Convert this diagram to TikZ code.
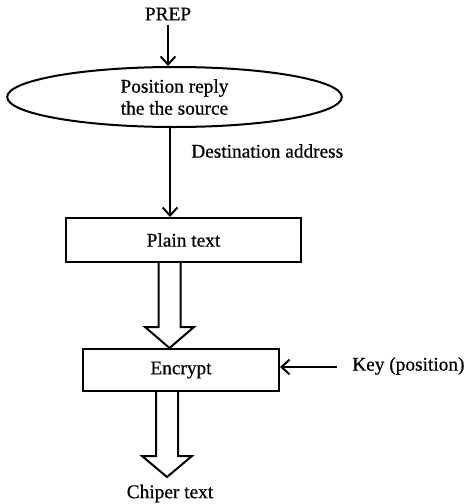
\documentclass[tikz,border=0pt]{standalone}
\usepackage{fontspec}
\setmainfont{Liberation Serif}[FakeBold=0.6]
\usetikzlibrary{shapes.geometric,arrows.meta,calc}
\begin{document}
\begin{tikzpicture}[x=0.75pt,y=-0.75pt,
  every node/.style={font=\fontsize{14.5}{16.5}\selectfont},
  arr/.style={line width=1.5pt,-{Straight Barb[length=6pt,width=11pt,line width=1.5pt]}},
  box/.style={draw,line width=1.5pt,rectangle,inner sep=0pt},
  hollow/.style={line width=1.5pt,line join=miter}]
\useasboundingbox (0,0) rectangle (466,504);
% nodes
\node[inner sep=3pt] (prep) at (168,14) {PREP};
\node[draw,ellipse,line width=1.5pt,minimum width=251pt,minimum height=45pt,inner sep=0pt,align=center] (src) at (174.5,97) {Position reply\\the the source};
\node[anchor=west,inner sep=0pt] (dest) at (191,151) {Destination address};
\node[box,minimum width=176.25pt,minimum height=33pt] (plain) at (183.5,240) {Plain text};
\node[box,minimum width=147pt,minimum height=31.5pt] (enc) at (181,370) {Encrypt};
\node[anchor=west,inner sep=0pt] (key) at (352,366) {Key (position)};
\node[inner sep=0pt] (chiper) at (170,493.5) {Chiper text};
% helper coordinates
\coordinate (ax) at (170,0);
\coordinate (h1) at (169.5,0);
\coordinate (h2) at (167,0);
\coordinate (kst) at (337,367);
% connectors
\draw[arr] (prep.south) -- (prep.south |- src.north);
\draw[arr] (ax |- src.south) -- (ax |- plain.north);
\draw[arr] (kst) -- (kst -| enc.east);
% hollow arrow plain -> encrypt
\draw[hollow] ($(h1 |- plain.south)+(-11,0)$) -- ($(h1 |- enc.north)+(-11,-21)$) -- ($(h1 |- enc.north)+(-24.5,-21)$) -- (h1 |- enc.north) -- ($(h1 |- enc.north)+(24.5,-21)$) -- ($(h1 |- enc.north)+(11,-21)$) -- ($(h1 |- plain.south)+(11,0)$);
% hollow arrow encrypt -> chiper text
\coordinate (t2) at ($(h2 |- enc.south)+(0,85)$);
\draw[hollow] ($(h2 |- enc.south)+(-11,0)$) -- ($(t2)+(-11,-21)$) -- ($(t2)+(-25,-21)$) -- (t2) -- ($(t2)+(25,-21)$) -- ($(t2)+(11,-21)$) -- ($(h2 |- enc.south)+(11,0)$);
\end{tikzpicture}
\end{document}
